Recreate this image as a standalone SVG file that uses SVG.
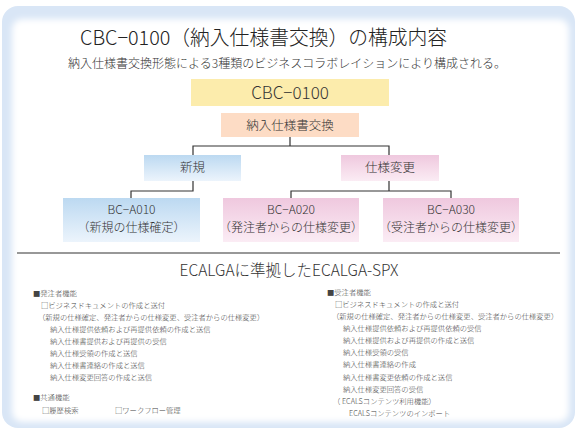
<svg xmlns="http://www.w3.org/2000/svg" width="576" height="429" viewBox="0 0 576 429">
<defs>
<linearGradient id="gBlue" x1="0" y1="0" x2="0" y2="1"><stop offset="0" stop-color="#bcd9f1"/><stop offset="1" stop-color="#ecf4fc"/></linearGradient>
<linearGradient id="gPink" x1="0" y1="0" x2="0" y2="1"><stop offset="0" stop-color="#efc8de"/><stop offset="1" stop-color="#fbecf4"/></linearGradient>
<filter id="soft" x="-5%" y="-5%" width="110%" height="110%"><feGaussianBlur stdDeviation="3"/></filter>
<style>
text{font-family:"Noto Sans CJK JP","Noto Sans",sans-serif;fill:#222}
.t{font-size:20px;text-anchor:middle;font-weight:300}
.st{font-size:12px;text-anchor:middle;fill:#333;font-weight:300}
.c{text-anchor:middle;fill:#333;font-weight:300}
.s{font-size:7.3px;fill:#444;font-weight:300}
.ln{stroke:#333;stroke-width:1.2;fill:none}
</style>
</defs>
<rect x="2" y="6" width="573" height="422" rx="16" fill="#d9e6f6"/>
<rect x="12" y="19" width="557" height="403" rx="10" fill="#fff" filter="url(#soft)"/>
<text class="t" x="263.5" y="45" textLength="367" lengthAdjust="spacingAndGlyphs">CBC−0100（納入仕様書交換）の構成内容</text>
<text class="st" x="287" y="68">納入仕様書交換形態による3種類のビジネスコラボレイションにより構成される。</text>
<g id="connectors" class="ln">
<path d="M290 137V146M193 155V146H389V155"/>
<path d="M193 181V191H131V198"/>
<path d="M389 181V191M291 198V191H451V198"/>
<line x1="17" y1="253" x2="560" y2="253"/>
</g>
<g id="n-cbc"><rect x="191" y="79" width="198" height="27" fill="#fcecac"/><text class="c" x="290" y="99" font-size="17">CBC−0100</text></g>
<g id="n-exchange"><rect x="221" y="113" width="138" height="24" fill="#fddcc5"/><text class="c" x="290" y="130" font-size="12.5">納入仕様書交換</text></g>
<g id="n-new"><rect x="144" y="155" width="97" height="26" fill="url(#gBlue)"/><text class="c" x="192.5" y="172" font-size="12.5">新規</text></g>
<g id="n-change"><rect x="341" y="155" width="98" height="26" fill="url(#gPink)"/><text class="c" x="390" y="172" font-size="12.5">仕様変更</text></g>
<g id="n-a010"><rect x="63" y="198" width="137" height="44" fill="url(#gBlue)"/><text class="c" x="131.5" y="214" font-size="12">BC−A010</text><text class="c" x="131.5" y="232" font-size="12">（新規の仕様確定）</text></g>
<g id="n-a020"><rect x="223" y="198" width="136" height="44" fill="url(#gPink)"/><text class="c" x="291" y="214" font-size="12">BC−A020</text><text class="c" x="291" y="232" font-size="12">（発注者からの仕様変更）</text></g>
<g id="n-a030"><rect x="383" y="198" width="136" height="44" fill="url(#gPink)"/><text class="c" x="451" y="214" font-size="12">BC−A030</text><text class="c" x="451" y="232" font-size="12">（受注者からの仕様変更）</text></g>
<text class="c" x="289" y="276" font-size="15.5">ECALGAに準拠したECALGA-SPX</text>
<g id="left">
<text class="s" x="33" y="296">■発注者機能</text>
<text class="s" x="41" y="308">□ビジネスドキュメントの作成と送付</text>
<text class="s" x="38" y="320">（新規の仕様確定、発注者からの仕様変更、受注者からの仕様変更）</text>
<text class="s" x="50" y="332">納入仕様提供依頼および再提供依頼の作成と送信</text>
<text class="s" x="50" y="344">納入仕様書提供および再提供の受信</text>
<text class="s" x="50" y="356">納入仕様受領の作成と送信</text>
<text class="s" x="50" y="368">納入仕様書連絡の作成と送信</text>
<text class="s" x="50" y="380">納入仕様変更回答の作成と送信</text>
<text class="s" x="33" y="400">■共通機能</text>
<text class="s" x="42" y="413">□履歴検索</text>
<text class="s" x="115" y="413">□ワークフロー管理</text>
</g>
<g id="right">
<text class="s" x="327" y="295">■受注者機能</text>
<text class="s" x="335" y="307">□ビジネスドキュメントの作成と送付</text>
<text class="s" x="332" y="319">（新規の仕様確定、発注者からの仕様変更、受注者からの仕様変更）</text>
<text class="s" x="343" y="331">納入仕様提供依頼および再提供依頼の受信</text>
<text class="s" x="343" y="343">納入仕様提供および再提供の作成と送信</text>
<text class="s" x="343" y="355">納入仕様受領の受信</text>
<text class="s" x="343" y="367">納入仕様書連絡の作成</text>
<text class="s" x="343" y="380">納入仕様書変更依頼の作成と送信</text>
<text class="s" x="343" y="392">納入仕様変更回答の受信</text>
<text class="s" x="333" y="404">（ ECALSコンテンツ利用機能）</text>
<text class="s" x="349" y="416">ECALSコンテンツのインポート</text>
</g>
</svg>
